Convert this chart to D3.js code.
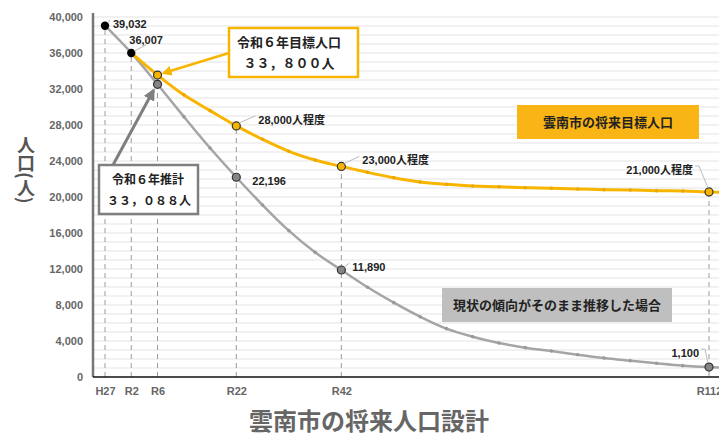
<!DOCTYPE html>
<html>
<head>
	<meta charset="utf-8">
	<title>雲南市の将来人口設計</title>
	<script type="text/javascript" src="https://d3js.org/d3.v7.min.js"></script>
	<style>
		body { margin: 0; background: #fff; }
		.chart text { font-family: "Liberation Sans", Arial, "Noto Sans CJK JP", sans-serif; font-weight: bold; }
		.grid line { stroke: #e3e3e3; stroke-width: 1; }
		.tick-label { fill: #666; font-size: 11px; }
		.data-label { fill: #222; font-size: 11px; }
		.leader { stroke: #bbb; stroke-width: 1; fill: none; }
		.box-text { fill: #222; font-size: 13px; font-family: "Noto Sans CJK JP", sans-serif; }
	</style>
</head>
<body>
<svg class="chart"></svg>

<script type="text/javascript">
	// categories (5-year steps after R2), R117 is only partly visible at the right edge
	var categories = ["H27", "R2", "R6", "R12", "R17", "R22", "R27", "R32", "R37", "R42",
		"R47", "R52", "R57", "R62", "R67", "R72", "R77", "R82", "R87", "R92",
		"R97", "R102", "R107", "R112", "R117"];
	var tickLabels = ["H27", "R2", "R6", "R22", "R42", "R112"];

	// 雲南市の将来目標人口 (orange)
	var targetPop = [null, 36007, 33550, 31350, 29600, 27900, 26410, 25080, 24110, 23400,
		22740, 22140, 21670, 21410, 21220, 21140, 21030, 20970, 20890, 20810,
		20780, 20700, 20670, 20560, 20500];
	// 現状の傾向がそのまま推移した場合 (gray)
	var trendPop = [39032, 36007, 32520, 28930, 25440, 22196, 19110, 16260, 13850, 11890,
		9970, 8260, 6700, 5370, 4480, 3780, 3260, 2890, 2480, 2110,
		1810, 1520, 1260, 1100, 1000];

	var yTicks = [0, 4000, 8000, 12000, 16000, 20000, 24000, 28000, 32000, 36000, 40000];

	var width = 719, height = 436;
	var left = 93, bottom = 377;
	var orange = "#F8B500", gray = "#A5A5A5";

	var svg = d3.select(".chart")
		.attr("width", width)
		.attr("height", height);

	// one category step is about 26.3px, first point at x=105
	var step = (709 - 105) / 23;
	var x = d3.scalePoint()
		.domain(categories)
		.range([105, 105 + step * (categories.length - 1)]);

	var y = d3.scaleLinear()
		.domain([0, 40000])
		.range([bottom, 17]);

	// light gridlines every 1000
	svg.append("g").attr("class", "grid")
		.selectAll("line")
		.data(d3.range(1000, 40001, 1000))
	  .enter().append("line")
		.attr("x1", left).attr("x2", width)
		.attr("y1", function(d){ return y(d); })
		.attr("y2", function(d){ return y(d); });

	// y labels
	var yAxis = d3.axisLeft(y).tickValues(yTicks).tickFormat(d3.format(",")).tickSize(0).tickPadding(10);
	svg.append("g")
		.attr("transform", "translate(" + left + ",0)")
		.call(yAxis)
		.call(function(g){ g.select(".domain").remove(); })
		.selectAll("text")
		.attr("class", "tick-label")
		.attr("font-family", null)
		.attr("font-size", null);

	// dashed guides at labelled categories, up to the highest point
	svg.append("g")
		.selectAll("line")
		.data(tickLabels)
	  .enter().append("line")
		.attr("x1", function(d){ return x(d); })
		.attr("x2", function(d){ return x(d); })
		.attr("y1", bottom)
		.attr("y2", function(d){
			var i = categories.indexOf(d);
			return y(Math.max(targetPop[i] || 0, trendPop[i]));
		})
		.attr("stroke", "#9a9a9a")
		.attr("stroke-dasharray", "5,4");

	// x labels (only some categories are named)
	var xAxis = d3.axisBottom(x).tickValues(tickLabels).tickSize(0).tickPadding(10);
	svg.append("g")
		.attr("transform", "translate(0," + bottom + ")")
		.call(xAxis)
		.call(function(g){ g.select(".domain").remove(); })
		.selectAll("text")
		.attr("class", "tick-label")
		.attr("font-family", null)
		.attr("font-size", null);

	// axis lines
	svg.append("line")
		.attr("x1", left).attr("x2", left).attr("y1", 13).attr("y2", bottom)
		.attr("stroke", "#777").attr("stroke-width", 2.5);
	svg.append("line")
		.attr("x1", left).attr("x2", width).attr("y1", bottom).attr("y2", bottom)
		.attr("stroke", "#111").attr("stroke-width", 1.5);

	// the two curves
	function series(values){
		return categories.map(function(c, i){ return { cat: c, value: values[i], i: i }; })
			.filter(function(d){ return d.value != null; });
	}
	var line = d3.line()
		.x(function(d){ return x(d.cat); })
		.y(function(d){ return y(d.value); })
		.curve(d3.curveCatmullRom.alpha(0.5));

	var trend = series(trendPop), target = series(targetPop);

	svg.append("path").datum(trend)
		.attr("d", line).attr("fill", "none")
		.attr("stroke", gray).attr("stroke-width", 2.5);
	svg.append("g").selectAll("circle").data(trend)
	  .enter().append("circle")
		.attr("cx", function(d){ return x(d.cat); })
		.attr("cy", function(d){ return y(d.value); })
		.attr("r", 1.8).attr("fill", "#999");

	svg.append("path").datum(target)
		.attr("d", line).attr("fill", "none")
		.attr("stroke", orange).attr("stroke-width", 3);
	svg.append("g").selectAll("circle").data(target)
	  .enter().append("circle")
		.attr("cx", function(d){ return x(d.cat); })
		.attr("cy", function(d){ return y(d.value); })
		.attr("r", 1.8).attr("fill", "#E9A800");

	// highlighted points
	var marked = [2, 5, 9, 23];
	svg.append("g").selectAll("circle").data(marked)
	  .enter().append("circle")
		.attr("cx", function(i){ return x(categories[i]); })
		.attr("cy", function(i){ return y(trendPop[i]); })
		.attr("r", 4).attr("fill", "#858585").attr("stroke", "#333").attr("stroke-width", 1.2);
	svg.append("g").selectAll("circle").data(marked)
	  .enter().append("circle")
		.attr("cx", function(i){ return x(categories[i]); })
		.attr("cy", function(i){ return y(targetPop[i]); })
		.attr("r", 4).attr("fill", orange).attr("stroke", "#333").attr("stroke-width", 1.2);
	svg.append("g").selectAll("circle").data([0, 1])
	  .enter().append("circle")
		.attr("cx", function(i){ return x(categories[i]); })
		.attr("cy", function(i){ return y(trendPop[i]); })
		.attr("r", 4.2).attr("fill", "#000");

	// data labels: index, series, text, offset of label, anchor
	var labels = [
		{ i: 0, s: trendPop, t: "39,032", dx: 8, dy: -2, a: "start", lead: true },
		{ i: 1, s: trendPop, t: "36,007", dx: -2, dy: -13, a: "start", lead: false },
		{ i: 5, s: targetPop, t: "28,000人程度", dx: 22, dy: -6, a: "start", lead: true },
		{ i: 5, s: trendPop, t: "22,196", dx: 16, dy: 4, a: "start", lead: false },
		{ i: 9, s: targetPop, t: "23,000人程度", dx: 21, dy: -6, a: "start", lead: true },
		{ i: 9, s: trendPop, t: "11,890", dx: 11, dy: -3, a: "start", lead: true },
		{ i: 23, s: targetPop, t: "21,000人程度", dx: -16, dy: -22, a: "end", lead: true },
		{ i: 23, s: trendPop, t: "1,100", dx: -10, dy: -14, a: "end", lead: true }
	];
	var lab = svg.append("g").selectAll("g").data(labels).enter().append("g")
		.attr("transform", function(d){ return "translate(" + x(categories[d.i]) + "," + y(d.s[d.i]) + ")"; });
	lab.filter(function(d){ return d.lead; }).append("path")
		.attr("class", "leader")
		.attr("d", function(d){
			if (d.a === "end") return "M" + (d.dx + 2) + "," + (d.dy - 4) + "h4L-1,-4";
			return "M3,-3L" + (d.dx - 3) + "," + (d.dy - 4);
		});
	// short leader for 36,007
	lab.filter(function(d){ return d.t === "36,007"; }).append("path")
		.attr("class", "leader")
		.attr("d", "M3,-2L15,-8");
	lab.append("text")
		.attr("class", "data-label")
		.attr("x", function(d){ return d.dx; })
		.attr("y", function(d){ return d.dy; })
		.attr("dy", "0.35em")
		.attr("text-anchor", function(d){ return d.a; })
		.text(function(d){ return d.t; });

	// arrow heads
	var defs = svg.append("defs");
	function head(id, color){
		defs.append("marker")
			.attr("id", id).attr("viewBox", "0 0 10 10")
			.attr("refX", 8).attr("refY", 5)
			.attr("markerWidth", 4).attr("markerHeight", 4)
			.attr("orient", "auto")
		  .append("path").attr("d", "M0,0L10,5L0,10Z").attr("fill", color);
	}
	head("head-orange", orange);
	head("head-gray", "#7f7f7f");

	// callout: 令和6年目標人口
	var r6 = x("R6");
	svg.append("line")
		.attr("x1", 229).attr("y1", 53)
		.attr("x2", r6 + 6).attr("y2", y(targetPop[2]) - 2)
		.attr("stroke", orange).attr("stroke-width", 2.5)
		.attr("marker-end", "url(#head-orange)");
	svg.append("rect")
		.attr("x", 229).attr("y", 28).attr("width", 129).attr("height", 49)
		.attr("fill", "#fff").attr("stroke", orange).attr("stroke-width", 2.5);
	svg.append("text").attr("class", "box-text")
		.attr("x", 289).attr("y", 47).attr("text-anchor", "middle")
		.text("令和６年目標人口");
	svg.append("text").attr("class", "box-text")
		.attr("x", 289).attr("y", 68).attr("text-anchor", "middle")
		.text("３３，８００人");

	// callout: 令和6年推計
	svg.append("line")
		.attr("x1", 113).attr("y1", 165)
		.attr("x2", r6 - 4).attr("y2", y(trendPop[2]) + 6)
		.attr("stroke", "#7f7f7f").attr("stroke-width", 3)
		.attr("marker-end", "url(#head-gray)");
	svg.append("rect")
		.attr("x", 99).attr("y", 165).attr("width", 99).attr("height", 49)
		.attr("fill", "#fff").attr("stroke", "#7f7f7f").attr("stroke-width", 2.5);
	svg.append("text").attr("class", "box-text").style("font-size", "12px")
		.attr("x", 148).attr("y", 184).attr("text-anchor", "middle")
		.text("令和６年推計");
	svg.append("text").attr("class", "box-text").style("font-size", "12px")
		.attr("x", 149).attr("y", 205).attr("text-anchor", "middle")
		.text("３３，０８８人");

	// series name boxes
	svg.append("rect")
		.attr("x", 517).attr("y", 105).attr("width", 182).attr("height", 34)
		.attr("fill", "#F9B515");
	svg.append("text").attr("class", "box-text")
		.attr("x", 608).attr("y", 127).attr("text-anchor", "middle")
		.text("雲南市の将来目標人口");
	svg.append("rect")
		.attr("x", 442).attr("y", 288).attr("width", 230).attr("height", 34)
		.attr("fill", "#BFBFBF");
	svg.append("text").attr("class", "box-text")
		.attr("x", 557).attr("y", 310).attr("text-anchor", "middle")
		.text("現状の傾向がそのまま推移した場合");

	// y title, vertical
	svg.append("text")
		.attr("x", 26).attr("y", 136)
		.style("writing-mode", "vertical-rl")
		.style("font-family", "'Noto Sans CJK JP', sans-serif")
		.style("font-size", "18px")
		.attr("fill", "#555")
		.text("人口(人)");

	// title
	svg.append("text")
		.attr("x", 369).attr("y", 430)
		.attr("text-anchor", "middle")
		.style("font-family", "'Noto Sans CJK JP', sans-serif")
		.style("font-size", "24px")
		.attr("fill", "#666")
		.text("雲南市の将来人口設計");
</script>
</body>
</html>
